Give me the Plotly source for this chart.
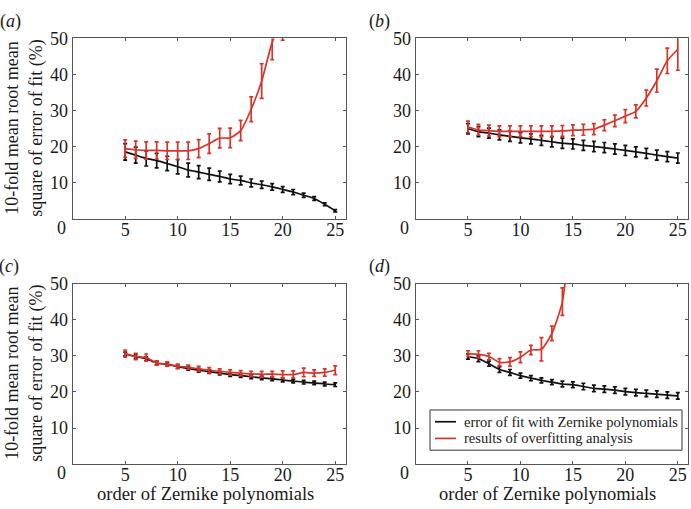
import plotly.graph_objects as go

orders = list(range(5, 26))

# panel (a)
a_black = [18.6, 17.7, 16.8, 16.2, 15.4, 14.5, 13.6, 13.0, 12.4, 11.8, 11.1, 10.7, 10.0, 9.5, 8.9, 8.2, 7.5, 6.6, 5.7, 4.1, 2.3]
a_black_err = [2.3, 2.2, 2.1, 2.0, 2.0, 2.0, 1.9, 1.8, 1.7, 1.5, 1.3, 1.2, 1.1, 1.0, 0.9, 0.8, 0.7, 0.6, 0.5, 0.4, 0.3]
a_red_orders = list(range(5, 21))
a_red = [19.5, 19.2, 19.0, 19.0, 18.9, 18.9, 18.9, 19.5, 20.9, 22.4, 22.5, 24.5, 30.4, 38.2, 48.9, 55.5]
a_red_err = [2.4, 2.4, 2.4, 2.4, 2.4, 2.4, 2.4, 2.5, 2.7, 2.7, 2.7, 2.8, 3.4, 4.8, 4.8, 6.0]

# panel (b)
b_black = [25.0, 24.2, 23.8, 23.3, 22.9, 22.5, 22.2, 21.8, 21.4, 21.0, 20.8, 20.4, 20.1, 19.8, 19.4, 19.0, 18.6, 18.2, 17.7, 17.3, 16.9]
b_black_err = [1.4] * 21
b_red = [25.5, 24.7, 24.5, 24.3, 24.3, 24.3, 24.3, 24.3, 24.3, 24.4, 24.6, 24.7, 24.9, 26.0, 27.2, 28.5, 29.8, 33.5, 38.3, 43.8, 47.0]
b_red_err = [1.6, 1.5, 1.5, 1.5, 1.5, 1.5, 1.5, 1.5, 1.5, 1.5, 1.5, 1.5, 1.5, 1.5, 1.6, 1.8, 1.8, 2.2, 3.2, 3.5, 5.8]

# panel (c)
c_black = [30.5, 29.8, 29.2, 28.0, 27.6, 27.0, 26.5, 26.0, 25.6, 25.2, 24.8, 24.5, 24.2, 23.9, 23.6, 23.3, 23.0, 22.7, 22.5, 22.2, 22.0]
c_black_err = [0.5] * 21
c_red = [30.6, 29.8, 29.5, 28.0, 27.7, 27.1, 26.8, 26.4, 26.0, 25.7, 25.4, 25.2, 25.0, 24.9, 24.9, 24.8, 24.8, 25.4, 25.2, 25.4, 26.0]
c_red_err = [1.0, 0.9, 1.0, 0.6, 0.6, 0.6, 0.6, 0.7, 0.7, 0.7, 0.7, 0.7, 0.7, 0.8, 0.8, 1.0, 1.0, 1.2, 0.9, 1.0, 1.2]

# panel (d)
d_black = [29.8, 29.2, 27.8, 26.2, 25.4, 24.5, 23.8, 23.2, 22.7, 22.2, 22.0, 21.5, 21.0, 20.8, 20.5, 20.1, 19.8, 19.6, 19.4, 19.1, 18.9]
d_black_err = [0.7, 0.8, 0.7, 0.8, 0.8, 0.7, 0.7, 0.7, 0.7, 0.8, 0.8, 0.9, 0.9, 0.9, 0.9, 0.9, 0.9, 0.9, 0.9, 0.9, 0.9]
d_red_orders = list(range(5, 16))
d_red = [30.6, 30.4, 29.8, 28.2, 28.3, 29.6, 31.6, 31.8, 36.2, 45.0, 72.0]
d_red_err = [0.8, 1.0, 0.9, 1.0, 1.2, 1.5, 1.3, 3.2, 2.0, 3.8, 5.0]

x_ticks = [5, 10, 15, 20, 25]
y_ticks = [10, 20, 30, 40, 50]
panel_labels = ["(<i>a</i>)", "(<i>b</i>)", "(<i>c</i>)", "(<i>d</i>)"]
legend_names = ["error of fit with Zernike polynomials", "results of overfitting analysis"]

W, H = 691, 509
RED = "#d8352a"
BLACK = "#111111"
FONT = "Liberation Serif"
TXT = "#1a1a1a"

panels = [
    (orders, a_black, a_black_err, a_red_orders, a_red, a_red_err),
    (orders, b_black, b_black_err, orders, b_red, b_red_err),
    (orders, c_black, c_black_err, orders, c_red, c_red_err),
    (orders, d_black, d_black_err, d_red_orders, d_red, d_red_err),
]

# pixel boxes (left, right, top, bottom)
boxes = [
    (72.7, 345.7, 29, 213.3),
    (415.5, 688.3, 29, 213.3),
    (72.7, 345.7, 279, 463.3),
    (415.5, 688.3, 279, 463.3),
]
label_pos = [(10, 12), (379, 12), (9, 262), (379, 262)]

fig = go.Figure()
annotations = []
shapes = []
for i, (xb, yb, eb, xr, yr, er) in enumerate(panels):
    n = i + 1
    xa = "x" if n == 1 else f"x{n}"
    ya = "y" if n == 1 else f"y{n}"
    fig.add_trace(go.Scatter(
        x=xb, y=yb, mode="lines", xaxis=xa, yaxis=ya,
        line=dict(color=BLACK, width=1.7, shape="spline", smoothing=0.6),
        error_y=dict(type="data", array=eb, color=BLACK, thickness=1.7, width=2),
        name=legend_names[0], showlegend=False,
    ))
    fig.add_trace(go.Scatter(
        x=xr, y=yr, mode="lines", xaxis=xa, yaxis=ya,
        line=dict(color=RED, width=1.7, shape="spline", smoothing=0.6),
        error_y=dict(type="data", array=er, color=RED, thickness=1.7, width=2),
        name=legend_names[1], showlegend=False,
    ))
    l, r, t, b = boxes[i]
    axcommon = dict(
        showline=True, linecolor="#555555", linewidth=1, mirror="ticks",
        ticks="inside", ticklen=3, tickcolor="#555555", showgrid=False,
        zeroline=False, tickfont=dict(family=FONT, size=18, color=TXT),
    )
    fig.update_layout(**{
        ("xaxis" if n == 1 else f"xaxis{n}"): dict(
            domain=[l / W, r / W], range=[0, 26], tickvals=x_ticks,
            anchor=ya, ticklabelstandoff=-6, **axcommon),
        ("yaxis" if n == 1 else f"yaxis{n}"): dict(
            domain=[1 - b / H, 1 - t / H], range=[0, 50], tickvals=y_ticks,
            anchor=xa, **axcommon),
    })
    # "0" corner label
    annotations.append(dict(
        text="0", xref=f"{xa} domain", yref=f"{ya} domain", x=0, y=0,
        xshift=-11, yshift=-9, showarrow=False, xanchor="center", yanchor="middle",
        font=dict(family=FONT, size=18, color=TXT)))
    # panel label
    lx, ly = label_pos[i]
    annotations.append(dict(
        text=panel_labels[i], xref="paper", yref="paper",
        x=lx / W, y=1 - ly / H, showarrow=False,
        xanchor="center", yanchor="middle",
        font=dict(family=FONT, size=18, color=TXT)))
    if n in (1, 3):
        annotations.append(dict(
            text="10-fold mean root mean<br>square of error of fit (%)",
            xref="paper", yref="paper", x=24 / W, y=1 - ((t + b) / 2) / H,
            textangle=-90, showarrow=False, xanchor="center", yanchor="middle",
            font=dict(family=FONT, size=18, color=TXT)))
    if n in (3, 4):
        annotations.append(dict(
            text="order of Zernike polynomials", xref="paper", yref="paper",
            x=((l + r) / 2 - 4) / W, y=1 - 494 / H, showarrow=False,
            xanchor="center", yanchor="middle",
            font=dict(family=FONT, size=18.5, color=TXT)))

# legend box drawn in panel (d)
LEG_L, LEG_R, LEG_T, LEG_B = 430, 682, 408, 449
shapes.append(dict(type="rect", xref="paper", yref="paper",
                   x0=LEG_L / W, x1=LEG_R / W, y0=1 - LEG_B / H, y1=1 - LEG_T / H,
                   line=dict(color="#333333", width=1), fillcolor="white", layer="above"))
for k, (name, col) in enumerate(zip(legend_names, [BLACK, RED])):
    yy = 420 + 17 * k
    shapes.append(dict(type="line", xref="paper", yref="paper",
                       x0=435 / W, x1=456 / W, y0=1 - yy / H, y1=1 - yy / H,
                       line=dict(color=col, width=1.7), layer="above"))
    annotations.append(dict(
        text=name, xref="paper", yref="paper", x=462 / W, y=1 - yy / H,
        showarrow=False, xanchor="left", yanchor="middle",
        font=dict(family=FONT, size=14.5, color=TXT)))

fig.update_layout(
    width=W, height=H, margin=dict(l=0, r=0, t=0, b=0),
    paper_bgcolor="white", plot_bgcolor="white",
    annotations=annotations, shapes=shapes, showlegend=False,
    font=dict(family=FONT),
)

fig.write_html("out.html", config={"displayModeBar": False},
               post_script="document.body.style.margin='0';document.body.style.overflow='hidden';")
